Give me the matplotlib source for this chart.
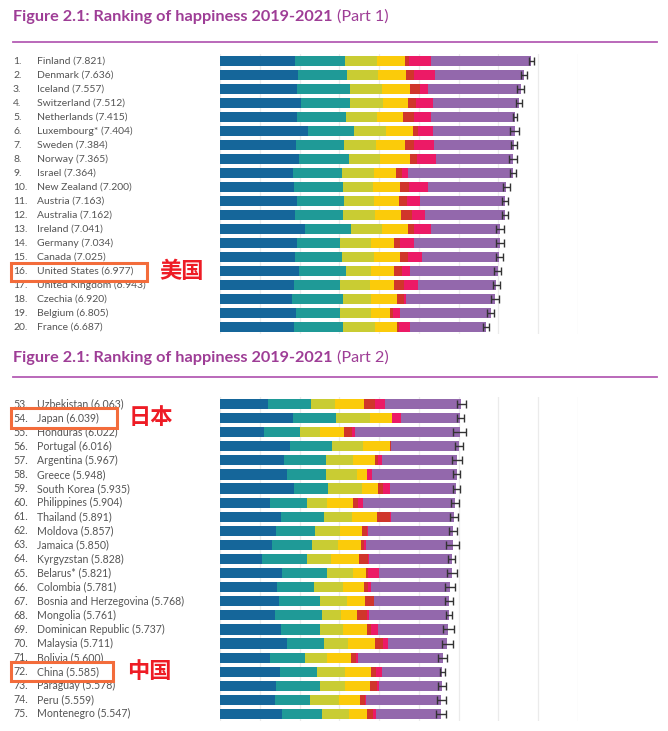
import matplotlib
matplotlib.use("Agg")
import matplotlib.pyplot as plt
import matplotlib.transforms as mtransforms
from matplotlib.patches import Rectangle
import numpy as np

# ---------------- data ----------------
ranks1 = list(range(1, 21))
names1 = ["Finland", "Denmark", "Iceland", "Switzerland", "Netherlands", "Luxembourg*",
          "Sweden", "Norway", "Israel", "New Zealand", "Austria", "Australia", "Ireland",
          "Germany", "Canada", "United States", "United Kingdom", "Czechia", "Belgium", "France"]
scores1 = [7.821, 7.636, 7.557, 7.512, 7.415, 7.404, 7.384, 7.365, 7.364, 7.200,
           7.163, 7.162, 7.041, 7.034, 7.025, 6.977, 6.943, 6.920, 6.805, 6.687]
gdp1 = [1.876, 1.951, 1.926, 2.027, 1.926, 2.203, 1.901, 1.977, 1.826, 1.851,
        1.926, 1.876, 2.127, 1.926, 1.876, 1.977, 1.851, 1.801, 1.901, 1.851]
social1 = [1.256, 1.231, 1.332, 1.231, 1.231, 1.155, 1.206, 1.256, 1.231, 1.231,
           1.181, 1.206, 1.156, 1.081, 1.181, 1.180, 1.156, 1.281, 1.106, 1.231]
health1 = [0.804, 0.779, 0.804, 0.829, 0.779, 0.804, 0.804, 0.779, 0.804, 0.754,
           0.754, 0.804, 0.779, 0.779, 0.804, 0.628, 0.754, 0.704, 0.779, 0.804]
freedom1 = [0.720, 0.720, 0.720, 0.645, 0.654, 0.695, 0.745, 0.754, 0.570, 0.695,
            0.628, 0.670, 0.653, 0.594, 0.653, 0.578, 0.603, 0.662, 0.477, 0.561]
generosity1 = [0.100, 0.201, 0.251, 0.184, 0.276, 0.126, 0.209, 0.193, 0.151, 0.226,
               0.201, 0.260, 0.168, 0.151, 0.218, 0.218, 0.268, 0.168, 0.075, 0.050]
corruption1 = [0.553, 0.528, 0.201, 0.444, 0.427, 0.377, 0.519, 0.477, 0.151, 0.477,
               0.327, 0.343, 0.427, 0.352, 0.352, 0.184, 0.352, 0.050, 0.176, 0.285]
err1 = [0.065, 0.07, 0.09, 0.08, 0.05, 0.11, 0.07, 0.09, 0.075, 0.085,
        0.075, 0.085, 0.095, 0.095, 0.095, 0.09, 0.085, 0.10, 0.09, 0.085]

ranks2 = list(range(53, 76))
names2 = ["Uzbekistan", "Japan", "Honduras", "Portugal", "Argentina", "Greece", "South Korea",
          "Philippines", "Thailand", "Moldova", "Jamaica", "Kyrgyzstan", "Belarus*", "Colombia",
          "Bosnia and Herzegovina", "Mongolia", "Dominican Republic", "Malaysia", "Bolivia",
          "China", "Paraguay", "Peru", "Montenegro"]
scores2 = [6.063, 6.039, 6.022, 6.016, 5.967, 5.948, 5.935, 5.904, 5.891, 5.857, 5.850, 5.828,
           5.821, 5.781, 5.768, 5.761, 5.737, 5.711, 5.600, 5.585, 5.578, 5.559, 5.547]
gdp2 = [1.200, 1.825, 1.100, 1.750, 1.600, 1.675, 1.850, 1.250, 1.525, 1.400, 1.300, 1.050,
        1.550, 1.425, 1.475, 1.375, 1.525, 1.675, 1.250, 1.500, 1.400, 1.375, 1.550]
social2 = [1.100, 1.100, 0.900, 1.075, 1.075, 1.000, 0.875, 0.925, 1.100, 1.000, 1.025, 1.125,
           1.150, 0.950, 1.050, 1.200, 1.000, 0.950, 0.875, 0.950, 1.125, 0.875, 1.025]
health2 = [0.600, 0.850, 0.525, 0.775, 0.675, 0.775, 0.850, 0.525, 0.700, 0.625, 0.650, 0.625,
           0.650, 0.725, 0.675, 0.475, 0.575, 0.600, 0.575, 0.700, 0.625, 0.750, 0.675]
freedom2 = [0.725, 0.550, 0.600, 0.675, 0.550, 0.250, 0.400, 0.650, 0.625, 0.550, 0.575, 0.700,
            0.325, 0.525, 0.450, 0.400, 0.600, 0.675, 0.600, 0.650, 0.625, 0.525, 0.450]
generosity2 = [0.275, 0.010, 0.200, 0.020, 0.075, 0.005, 0.125, 0.125, 0.325, 0.125, 0.075, 0.225,
               0.050, 0.100, 0.225, 0.250, 0.100, 0.200, 0.125, 0.125, 0.175, 0.125, 0.150]
corruption2 = [0.250, 0.225, 0.075, 0.010, 0.100, 0.125, 0.175, 0.125, 0.020, 0.010, 0.050, 0.010,
               0.275, 0.075, 0.005, 0.050, 0.175, 0.125, 0.050, 0.150, 0.050, 0.010, 0.075]
err2 = [0.11, 0.085, 0.17, 0.10, 0.125, 0.09, 0.09, 0.10, 0.10, 0.09, 0.17, 0.09,
        0.125, 0.125, 0.10, 0.075, 0.14, 0.14, 0.11, 0.065, 0.11, 0.11, 0.125]

colors = ["#15669A", "#1F9A97", "#C9CC33", "#FBCB0A", "#D0362B", "#EC1A66", "#9368AC"]
title_color = "#9E3D96"
line_color = "#B45DB4"
label_color = "#555555"

W, H = 668, 731
fig = plt.figure(figsize=(W / 100, H / 100), dpi=100)
fig.patch.set_facecolor("white")


def fx(px):
    return px / W


def fy(py):
    return 1 - py / H


def draw_panel(top_px, bottom_px, ranks, names, scores, comps, errs, fs):
    ax = fig.add_axes([fx(220), fy(bottom_px), fx(578) - fx(220), (bottom_px - top_px) / H])
    n = len(names)
    y = np.arange(n)
    left = np.zeros(n)
    comp_arrays = [np.array(c) for c in comps]
    dyst = np.array(scores) - sum(comp_arrays)
    for arr, col in zip(comp_arrays + [dyst], colors):
        ax.barh(y, arr, left=left, height=0.72, color=col, edgecolor="none", zorder=2)
        left = left + arr
    ax.errorbar(scores, y, xerr=errs, fmt="none", ecolor="#333333", elinewidth=1.0,
                capsize=2.6, capthick=1.0, zorder=3)
    ax.set_xlim(0, 9)
    ax.set_ylim(n - 0.5, -0.5)
    ax.set_xticks(np.arange(0, 10))
    ax.grid(axis="x", color="#EBEBEB", linewidth=0.9, zorder=0)
    ax.tick_params(left=False, bottom=False, labelleft=False, labelbottom=False)
    for s in ax.spines.values():
        s.set_visible(False)
    trans = mtransforms.blended_transform_factory(fig.transFigure, ax.transData)
    for i in range(n):
        ax.text(fx(13), i, f"{ranks[i]}.", transform=trans, ha="left", va="center",
                fontsize=fs, color=label_color, family="Lato")
        ax.text(fx(37), i, f"{names[i]} ({scores[i]:.3f})", transform=trans, ha="left",
                va="center", fontsize=fs, color=label_color, family="Lato")
    return ax


def draw_title(py_text, py_line, part):
    t = fig.text(fx(13), fy(py_text), "Figure 2.1: Ranking of happiness 2019-2021", ha="left",
                 va="center", fontsize=11.7, fontweight="bold", color=title_color, family="Lato")
    fig.canvas.draw()
    bb = t.get_window_extent()
    fig.text(bb.x1 / W + fx(4), fy(py_text), f"(Part {part})", ha="left", va="center",
             fontsize=11.7, color=title_color, family="Lato")
    fig.add_artist(plt.Line2D([fx(13), fx(657)], [fy(py_line), fy(py_line)],
                              color=line_color, linewidth=1.3, transform=fig.transFigure))


draw_title(17, 42, 1)
draw_panel(54, 334, ranks1, names1, scores1,
           [gdp1, social1, health1, freedom1, generosity1, corruption1], err1, 7.5)
draw_title(358, 377, 2)
draw_panel(397, 721, ranks2, names2, scores2,
           [gdp2, social2, health2, freedom2, generosity2, corruption2], err2, 7.6)

# annotations
boxes = [(11, 263, 147, 281, "美国", 159, 272),
         (11, 408, 117, 428, "日本", 129, 418),
         (11, 662, 113, 681, "中国", 127, 672)]
for x0, y0, x1, y1, txt, tx, ty in boxes:
    fig.add_artist(Rectangle((fx(x0), fy(y1)), fx(x1) - fx(x0), (y1 - y0) / H,
                             transform=fig.transFigure, fill=False, edgecolor="#F36C3B",
                             linewidth=2.2))
    fig.text(fx(tx), fy(ty), txt, ha="left", va="center", fontsize=16, fontweight="bold",
             color="#EE1C25", family=["Noto Sans CJK SC", "DejaVu Sans"])

fig.savefig("out.png", dpi=100, facecolor="white")
